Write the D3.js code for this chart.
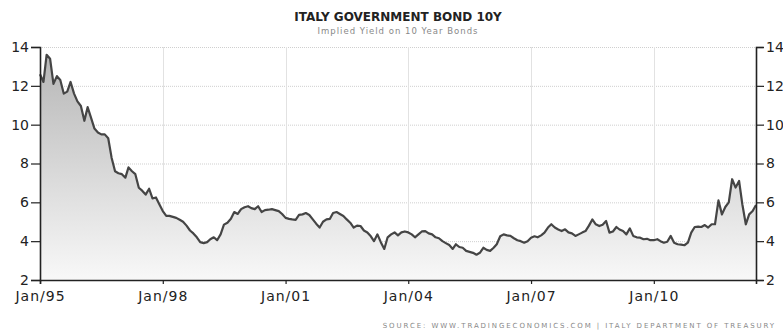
<!DOCTYPE html>
<html>
<head>
<meta charset="utf-8"/>
<title>Italy Government Bond 10Y</title>
<script src="https://d3js.org/d3.v7.min.js"></script>
<style>
  body { margin: 0; background: #fff; }
  svg text { font-family: "DejaVu Sans", Verdana, sans-serif; }
</style>
</head>
<body>
<svg width="783" height="335"></svg>
<script>
// monthly yields, Jan 1995 .. Jul 2012
var startMonth = "1995-01";
var yields = [
  12.6, 12.2, 13.6, 13.4, 12.1, 12.5, 12.3, 11.6, 11.7, 12.2, 11.6, 11.2,
  10.96, 10.2, 10.9, 10.35, 9.8, 9.6, 9.5, 9.5, 9.3, 8.3, 7.6, 7.5,
  7.45, 7.27, 7.8, 7.6, 7.45, 6.75, 6.6, 6.4, 6.7, 6.2, 6.25, 5.9,
  5.55, 5.3, 5.3, 5.25, 5.2, 5.1, 5.0, 4.8, 4.55, 4.4, 4.2, 3.95,
  3.9, 3.95, 4.1, 4.2, 4.05, 4.35, 4.85, 4.95, 5.15, 5.5, 5.4, 5.65,
  5.75, 5.8, 5.7, 5.65, 5.8, 5.5, 5.6, 5.62, 5.65, 5.6, 5.55, 5.4,
  5.2, 5.15, 5.12, 5.1, 5.35, 5.38, 5.45, 5.35, 5.12, 4.9, 4.7, 5.0,
  5.12, 5.15, 5.45, 5.5, 5.4, 5.3, 5.12, 4.95, 4.7, 4.8, 4.78, 4.55,
  4.45, 4.25, 4.0, 4.35, 3.95, 3.6, 4.2, 4.35, 4.45, 4.3, 4.45, 4.5,
  4.45, 4.35, 4.2, 4.35, 4.5, 4.52, 4.4, 4.35, 4.2, 4.15, 4.0, 3.9,
  3.8, 3.6, 3.84, 3.7, 3.66, 3.5, 3.45, 3.4, 3.3, 3.4, 3.66, 3.55,
  3.5, 3.66, 3.84, 4.25, 4.35, 4.3, 4.27, 4.15, 4.05, 4.0, 3.92, 4.0,
  4.18, 4.25, 4.2, 4.3, 4.44, 4.7, 4.87, 4.7, 4.6, 4.52, 4.61, 4.45,
  4.4, 4.27, 4.35, 4.44, 4.52, 4.8, 5.12, 4.87, 4.78, 4.85, 5.04, 4.44,
  4.5, 4.73, 4.6, 4.52, 4.35, 4.66, 4.27, 4.2, 4.18, 4.1, 4.12, 4.05,
  4.05, 4.1, 4.0, 3.92, 3.97, 4.27, 3.92, 3.84, 3.82, 3.79, 3.92, 4.44,
  4.73, 4.75, 4.73, 4.83, 4.7, 4.87, 4.87, 6.1, 5.38, 5.76, 6.0, 7.19,
  6.76, 7.1, 5.9, 4.87, 5.38, 5.55, 5.86
];
var yTicks = [2, 4, 6, 8, 10, 12, 14];
var xTickYears = [1995, 1998, 2001, 2004, 2007, 2010];

var parseMonth = d3.timeParse("%Y-%m");
var t0 = parseMonth(startMonth);
var data = yields.map(function(v, i) {
  return { date: d3.timeMonth.offset(t0, i), value: v };
});

var margin = {top: 47, right: 27, bottom: 55, left: 40},
    W = 783, H = 335,
    width = W - margin.left - margin.right,
    height = H - margin.top - margin.bottom;

var svg = d3.select("svg");

var x = d3.scaleTime()
    .domain([t0, data[data.length - 1].date])
    .range([0, width]);
var y = d3.scaleLinear().domain([2, 14]).range([height, 0]);

var defs = svg.append("defs");
var grad = defs.append("linearGradient")
    .attr("id", "fillGrad")
    .attr("gradientUnits", "userSpaceOnUse")
    .attr("x1", 0).attr("x2", 0)
    .attr("y1", 0).attr("y2", height);
grad.append("stop").attr("offset", "0%").attr("stop-color", "#b4b4b4");
grad.append("stop").attr("offset", "100%").attr("stop-color", "#f8f8f8");

var g = svg.append("g")
    .attr("transform", "translate(" + margin.left + "," + margin.top + ")");

// grid
g.selectAll(".hgrid")
  .data(yTicks.filter(function(d){ return d > 2; }))
  .enter().append("line")
    .attr("x1", 0).attr("x2", width)
    .attr("y1", function(d){ return y(d) + 0.5; })
    .attr("y2", function(d){ return y(d) + 0.5; })
    .attr("stroke", "#cfcfcf")
    .attr("stroke-dasharray", "1,1");

var xTickDates = xTickYears.map(function(yr){ return new Date(yr, 0, 1); });
g.selectAll(".vgrid")
  .data(xTickDates.slice(1))
  .enter().append("line")
    .attr("x1", function(d){ return Math.round(x(d)) + 0.5; })
    .attr("x2", function(d){ return Math.round(x(d)) + 0.5; })
    .attr("y1", 0).attr("y2", height)
    .attr("stroke", "#e2e2e2");

// area + line
var area = d3.area()
    .x(function(d){ return x(d.date); })
    .y0(height)
    .y1(function(d){ return y(d.value); });
var line = d3.line()
    .x(function(d){ return x(d.date); })
    .y(function(d){ return y(d.value); });

g.append("path").datum(data)
    .attr("d", area)
    .attr("fill", "url(#fillGrad)");
g.append("path").datum(data)
    .attr("d", line)
    .attr("fill", "none")
    .attr("stroke", "#454545")
    .attr("stroke-width", 2.2)
    .attr("stroke-linejoin", "round");

// axes
var axisLeft = g.append("g")
    .call(d3.axisLeft(y).tickValues(yTicks).tickSizeOuter(0).tickSize(9).tickPadding(2));
var axisRight = g.append("g")
    .attr("transform", "translate(" + width + ",0)")
    .call(d3.axisRight(y).tickValues(yTicks).tickSizeOuter(0).tickSize(8).tickPadding(2));
var axisBottom = g.append("g")
    .attr("transform", "translate(0," + height + ")")
    .call(d3.axisBottom(x).tickValues(xTickDates).tickSizeOuter(0).tickSize(4).tickPadding(7)
      .tickFormat(d3.timeFormat("Jan/%y")));

[axisLeft, axisRight, axisBottom].forEach(function(a) {
  a.select(".domain").attr("stroke", "#222").attr("stroke-width", 1.6);
  a.selectAll(".tick line").attr("stroke", "#222").attr("stroke-width", 1.2);
  a.selectAll(".tick text")
    .attr("fill", "#222")
    .style("font-size", "14px");
});
axisBottom.selectAll(".tick text").style("letter-spacing", "1px");

// titles
svg.append("text")
    .attr("x", 398).attr("y", 21)
    .attr("text-anchor", "middle")
    .attr("fill", "#222")
    .style("font-size", "12px")
    .style("font-weight", "bold")
    .text("ITALY GOVERNMENT BOND 10Y");
svg.append("text")
    .attr("x", 398).attr("y", 34)
    .attr("text-anchor", "middle")
    .attr("fill", "#888")
    .style("font-size", "8.5px")
    .style("letter-spacing", "1px")
    .text("Implied Yield on 10 Year Bonds");
svg.append("text")
    .attr("x", 776).attr("y", 328)
    .attr("text-anchor", "end")
    .attr("fill", "#888")
    .style("font-size", "7px")
    .style("letter-spacing", "1.9px")
    .text("SOURCE: WWW.TRADINGECONOMICS.COM | ITALY DEPARTMENT OF TREASURY");
</script>
</body>
</html>
